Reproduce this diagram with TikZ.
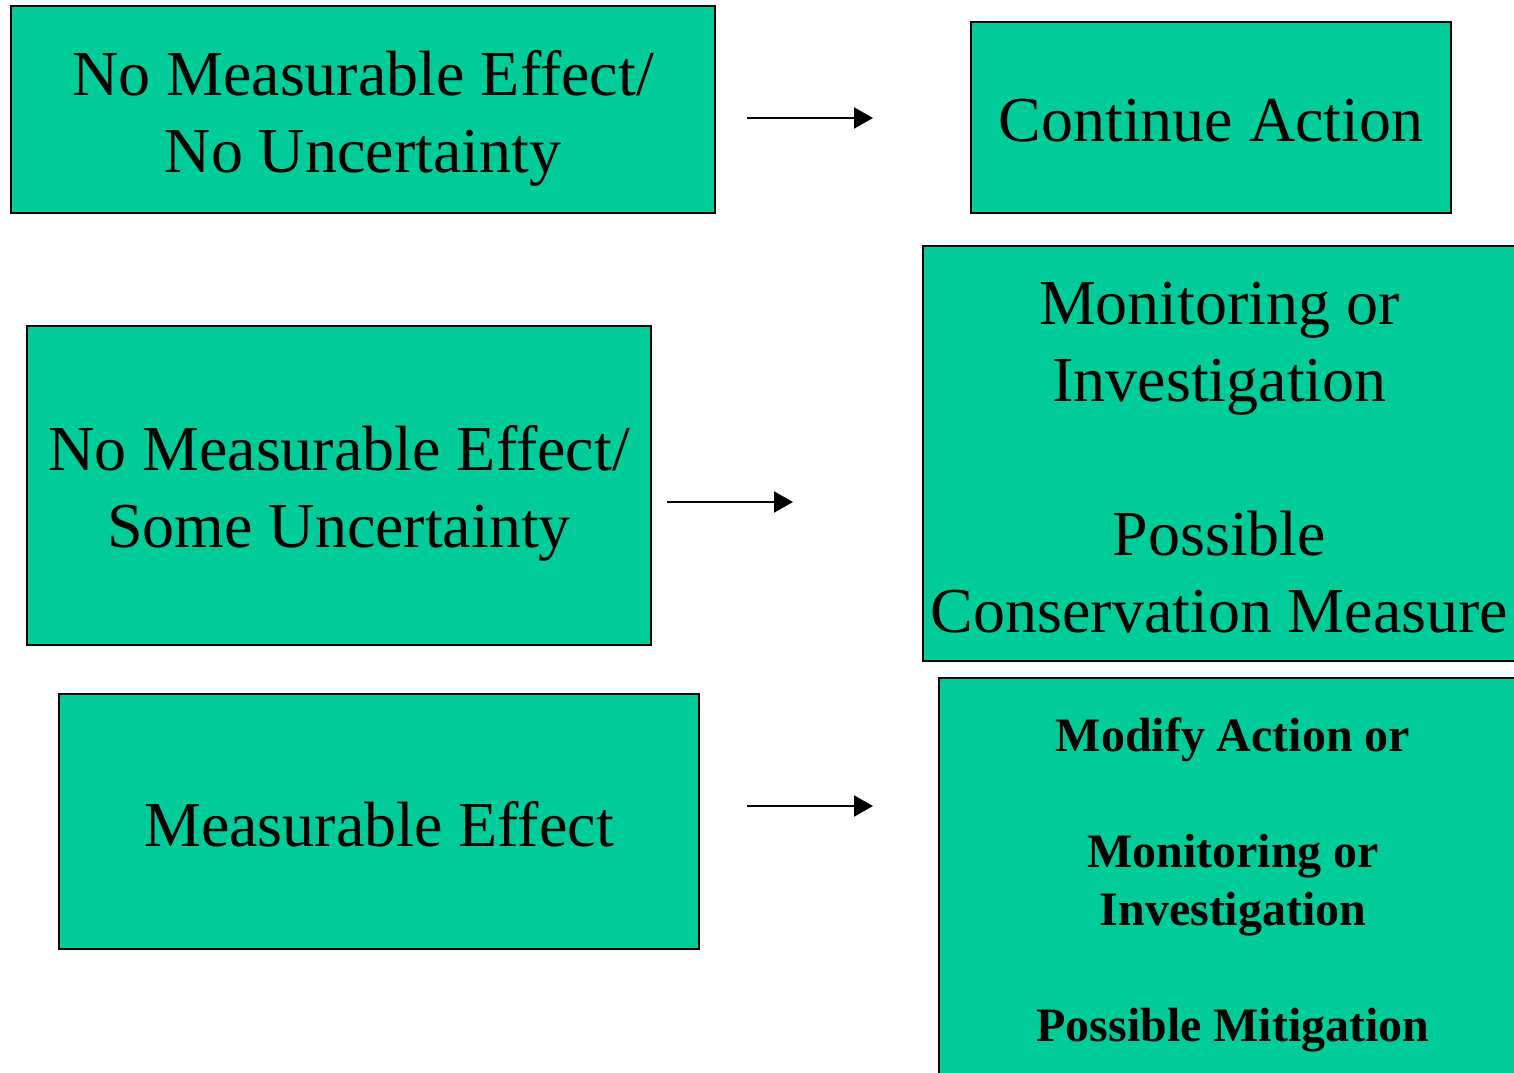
\documentclass[tikz,border=0pt]{standalone}
\usepackage{fontspec}
\setmainfont{Liberation Serif}
\usetikzlibrary{arrows.meta}
\definecolor{boxgreen}{HTML}{00CC99}
\begin{document}
\begin{tikzpicture}[x=.5pt,y=-.5pt,every node/.style={font=\fontsize{32}{38.5}\selectfont,align=center},box/.style={draw=black,line width=1pt,fill=boxgreen,inner sep=0pt}]
		\clip(0,0)rectangle(1514,1072);
		\node[box,minimum width=352pt,minimum height=103.5pt](nmnu)at(363,109.5){};
		\node[box,minimum width=240pt,minimum height=95.5pt](cont)at(1211,117.5){};
		\node[box,minimum width=312pt,minimum height=159.5pt](nmsu)at(339,485.5){};
		\node[box,minimum width=296.5pt,minimum height=207.5pt](moni)at(1219.5,453.5){};
		\node[box,minimum width=320pt,minimum height=127.5pt](meas)at(379,821.5){};
		\node[box,minimum width=294pt,minimum height=202pt](modi)at(1233,880){};
		% texts sit a little below the box centres
		\node(nmnu-t)at(363,118.5){No Measurable Effect/\\No Uncertainty};
		\node(cont-t)at(1211,120.5){Continue Action};
		\node(nmsu-t)at(339,493.5){No Measurable Effect/\\Some Uncertainty};
		\node(moni-t)at(1219.5,457.5){Monitoring or\\Investigation\\[38.5pt]Possible\\Conservation Measure};
		\node(meas-t)at(379,824.5){Measurable Effect};
		\node[font=\fontsize{24}{29}\selectfont\bfseries](modi-t)at(1233,885){Modify Action or\\[29pt]Monitoring or\\Investigation\\[29pt]Possible Mitigation};
		\coordinate(A1)at(747,118);
		\coordinate(B1)at(873,118);
		\coordinate(A2)at(667,502);
		\coordinate(B2)at(793,502);
		\coordinate(A3)at(747,806);
		\coordinate(B3)at(873,806);
		\foreach\a/\b in{A1/B1,A2/B2,A3/B3}{\draw[line width=1pt,-{Triangle[length=9.5pt,width=10.5pt]}](\a)--(\b);}
\end{tikzpicture}
\end{document}
